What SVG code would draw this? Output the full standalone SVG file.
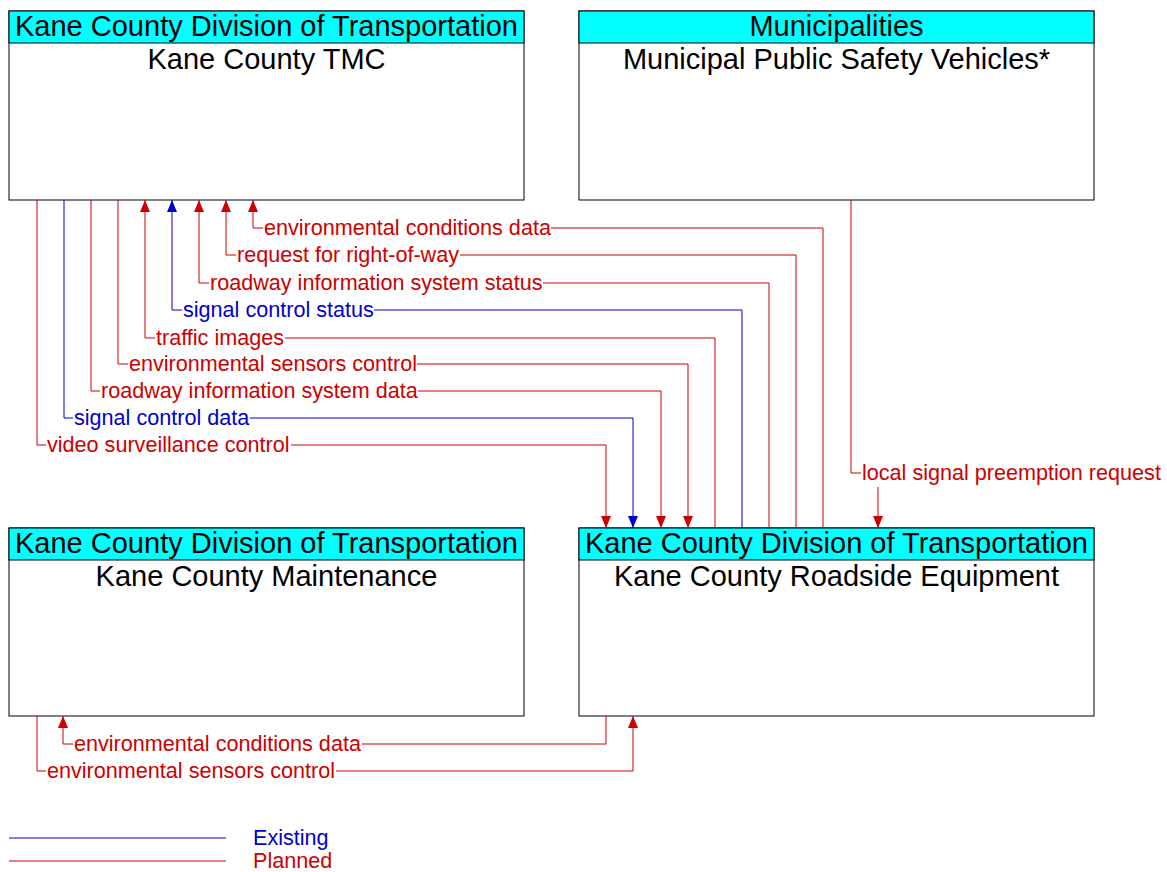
<svg xmlns="http://www.w3.org/2000/svg" width="1167" height="872" viewBox="0 0 1167 872">
<style>
.box{fill:#fff;stroke:#000;stroke-width:1}
.hdr{fill:#00ffff;stroke:#000;stroke-width:1}
.t{font-family:"Liberation Sans",Arial,sans-serif;font-size:29px;fill:#000;text-anchor:middle}
.lbl{font-family:"Liberation Sans",Arial,sans-serif;font-size:21.6px}
.r{fill:#cc0000}
.b{fill:#0000cc}
.lr{fill:none;stroke:#cc0000;stroke-width:1}
.lb{fill:none;stroke:#0000cc;stroke-width:1}
</style>
<defs>
<marker id="ar" markerWidth="12" markerHeight="10" refX="12" refY="5" orient="auto" markerUnits="userSpaceOnUse" viewBox="0 0 12 10"><path d="M0,0 L12,5 L0,10 Z" fill="#cc0000"/></marker>
<marker id="ab" markerWidth="12" markerHeight="10" refX="12" refY="5" orient="auto" markerUnits="userSpaceOnUse" viewBox="0 0 12 10"><path d="M0,0 L12,5 L0,10 Z" fill="#0000cc"/></marker>
</defs>
<rect width="1167" height="872" fill="#fff"/>

<g id="node-tmc">
<rect class="box" x="9" y="11" width="515" height="189"/>
<rect class="hdr" x="9" y="11" width="515" height="32"/>
<text class="t" x="266.5" y="36">Kane County Division of Transportation</text>
<text class="t" x="266.5" y="69">Kane County TMC</text>
</g>
<g id="node-municipal">
<rect class="box" x="579" y="11" width="515" height="189"/>
<rect class="hdr" x="579" y="11" width="515" height="32"/>
<text class="t" x="836.5" y="36">Municipalities</text>
<text class="t" x="836.5" y="69">Municipal Public Safety Vehicles*</text>
</g>
<g id="node-maintenance">
<rect class="box" x="9" y="528" width="515" height="188"/>
<rect class="hdr" x="9" y="528" width="515" height="32"/>
<text class="t" x="266.5" y="553">Kane County Division of Transportation</text>
<text class="t" x="266.5" y="586">Kane County Maintenance</text>
</g>
<g id="node-roadside">
<rect class="box" x="579" y="528" width="515" height="188"/>
<rect class="hdr" x="579" y="528" width="515" height="32"/>
<text class="t" x="836.5" y="553">Kane County Division of Transportation</text>
<text class="t" x="836.5" y="586">Kane County Roadside Equipment</text>
</g>

<g id="connectors">
<path class="lr" d="M823,528 V228 H551"/>
<path class="lr" d="M263,228 H253 V200" marker-end="url(#ar)"/>
<text class="lbl r" x="264" y="235">environmental conditions data</text>

<path class="lr" d="M796,528 V255 H460"/>
<path class="lr" d="M236,255 H226 V200" marker-end="url(#ar)"/>
<text class="lbl r" x="237" y="262">request for right-of-way</text>

<path class="lr" d="M769,528 V283 H543"/>
<path class="lr" d="M209,283 H199 V200" marker-end="url(#ar)"/>
<text class="lbl r" x="210" y="290">roadway information system status</text>

<path class="lb" d="M742,528 V310 H374"/>
<path class="lb" d="M182,310 H172 V200" marker-end="url(#ab)"/>
<text class="lbl b" x="183" y="317">signal control status</text>

<path class="lr" d="M715,528 V338 H285"/>
<path class="lr" d="M155,338 H145 V200" marker-end="url(#ar)"/>
<text class="lbl r" x="156" y="345">traffic images</text>

<path class="lr" d="M118,200 V364 H128"/>
<path class="lr" d="M417,364 H688 V528" marker-end="url(#ar)"/>
<text class="lbl r" x="129" y="371">environmental sensors control</text>

<path class="lr" d="M91,200 V391 H100"/>
<path class="lr" d="M418,391 H661 V528" marker-end="url(#ar)"/>
<text class="lbl r" x="101" y="398">roadway information system data</text>

<path class="lb" d="M64,200 V418 H73"/>
<path class="lb" d="M250,418 H633 V528" marker-end="url(#ab)"/>
<text class="lbl b" x="74" y="425">signal control data</text>

<path class="lr" d="M37,200 V445 H46"/>
<path class="lr" d="M291,445 H606 V528" marker-end="url(#ar)"/>
<text class="lbl r" x="47" y="452">video surveillance control</text>

<path class="lr" d="M851,200 V473 H861"/>
<text class="lbl r" x="862" y="480">local signal preemption request</text>
<path class="lr" d="M878,487 V528" marker-end="url(#ar)"/>

<path class="lr" d="M606,716 V744 H362"/>
<path class="lr" d="M73,744 H63 V716" marker-end="url(#ar)"/>
<text class="lbl r" x="74" y="751">environmental conditions data</text>

<path class="lr" d="M37,716 V771 H46"/>
<path class="lr" d="M336,771 H633 V716" marker-end="url(#ar)"/>
<text class="lbl r" x="47" y="778">environmental sensors control</text>
</g>

<g id="legend">
<line class="lb" x1="9" y1="838" x2="226" y2="838"/>
<text class="lbl b" x="253" y="845">Existing</text>
<line class="lr" x1="9" y1="861" x2="226" y2="861"/>
<text class="lbl r" x="253" y="868">Planned</text>
</g>
</svg>
